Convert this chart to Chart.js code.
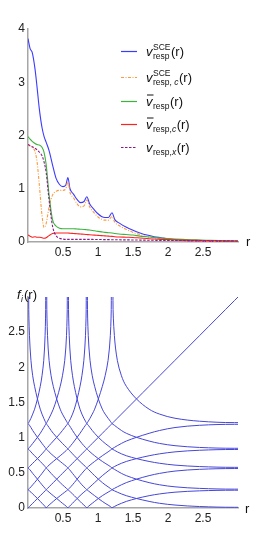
<!DOCTYPE html>
<html><head><meta charset="utf-8">
<script src="https://cdn.jsdelivr.net/npm/chart.js@4/dist/chart.umd.min.js"></script>
<style>
html,body{margin:0;padding:0;background:#fff;}
#wrap{position:relative;width:268px;height:539px;overflow:hidden;}
canvas{position:absolute;left:0;}
</style></head><body>
<div id="wrap">
<canvas id="c1" width="268" height="270" style="top:0"></canvas>
<canvas id="c2" width="268" height="269" style="top:270px"></canvas>
</div>
<script>
// ---------- top panel data ----------
const rTop = [0,0.03,0.06,0.1,0.13,0.16,0.2,0.23,0.26,0.3,0.35,0.4,0.45,0.5,0.54,0.57,0.6,0.65,0.7,0.75,0.8,0.84,0.88,0.95,1.0,1.05,1.1,1.15,1.2,1.24,1.3,1.4,1.5,1.6,1.7,1.8,1.9,2.0,2.2,2.4,2.6,2.8,3.0];
const vRespSCE = [3.82,3.63,3.56,3.25,2.9,2.52,2.15,1.98,1.87,1.72,1.45,1.2,1.08,1.04,1.07,1.21,1.0,0.9,0.8,0.74,0.76,0.85,0.72,0.6,0.53,0.48,0.46,0.46,0.55,0.42,0.36,0.28,0.22,0.17,0.13,0.1,0.08,0.06,0.035,0.02,0.012,0.008,0.005];
const vRespCSCE = [1.83,1.8,1.78,1.7,1.5,1.1,0.5,0.27,0.35,0.65,0.88,0.95,0.97,0.97,1.0,1.13,0.93,0.83,0.72,0.66,0.68,0.79,0.66,0.54,0.47,0.43,0.41,0.41,0.48,0.37,0.31,0.24,0.18,0.14,0.1,0.08,0.06,0.045,0.025,0.015,0.01,0.006,0.004];
const vBarResp = [1.98,1.93,1.89,1.85,1.83,1.82,1.78,1.68,1.45,0.9,0.42,0.3,0.26,0.25,0.25,0.25,0.25,0.25,0.245,0.24,0.235,0.23,0.225,0.21,0.2,0.19,0.18,0.175,0.17,0.16,0.15,0.14,0.13,0.11,0.1,0.085,0.075,0.065,0.05,0.04,0.03,0.025,0.02];
const vBarRespC = [0.13,0.11,0.09,0.1,0.09,0.09,0.08,0.07,0.08,0.12,0.16,0.17,0.17,0.17,0.17,0.17,0.165,0.16,0.155,0.15,0.145,0.14,0.135,0.13,0.125,0.12,0.115,0.11,0.105,0.1,0.095,0.09,0.085,0.075,0.065,0.055,0.05,0.045,0.035,0.03,0.025,0.02,0.02];
const vRespX = [1.83,1.81,1.79,1.76,1.73,1.69,1.62,1.5,1.3,0.8,0.3,0.12,0.07,0.055,0.05,0.05,0.05,0.05,0.05,0.05,0.05,0.05,0.05,0.048,0.047,0.046,0.045,0.044,0.043,0.042,0.041,0.04,0.038,0.036,0.034,0.032,0.03,0.029,0.027,0.025,0.023,0.021,0.02];
const topXTicks = [0.5,1,1.5,2,2.5];
const topYTicks = [0,1,2,3,4];

// ---------- bottom panel data ----------
// electron-count levels s and the radius read at each level (last = infinity, off chart)
const levelS = [0,0.03,0.07,0.15,0.25,0.35,0.5,0.65,0.75,0.85,0.93,0.97,
                1,1.03,1.07,1.15,1.25,1.35,1.5,1.65,1.75,1.85,1.93,1.97,
                2,2.03,2.07,2.15,2.25,2.35,2.5,2.65,2.75,2.85,2.93,2.97,
                3,3.03,3.07,3.15,3.25,3.35,3.5,3.65,3.75,3.85,3.93,3.97,
                4,4.03,4.07,4.15,4.25,4.35,4.5,4.65,4.75,4.85,4.93,4.97,5];
const levelR = [0,0.010,0.021,0.042,0.067,0.094,0.135,0.175,0.200,0.225,0.244,0.253,
                0.260,0.268,0.279,0.301,0.330,0.361,0.410,0.460,0.492,0.525,0.550,0.561,
                0.570,0.578,0.589,0.610,0.636,0.662,0.702,0.743,0.770,0.798,0.821,0.832,
                0.840,0.849,0.861,0.886,0.918,0.952,1.005,1.062,1.102,1.144,1.176,1.190,
                1.200,1.214,1.234,1.276,1.335,1.405,1.550,1.730,1.880,2.100,2.450,2.950,40];
const risingShifts = [-4,-3,-2,-1,0,1,2,3,4];   // f level = s + c
const fallingSums = [1,2,3,4,5,6,7,8,9];        // f level = k - s
const botXTicks = [0.5,1,1.5,2,2.5];
const botYTicks = [0,0.5,1,1.5,2,2.5];

const FONT = '"Liberation Sans", Arial, Helvetica, sans-serif';
const AXIS = '#a6a6a6';

function levelIndex(v){
  for (let j=0;j<levelS.length;j++) if (Math.abs(levelS[j]-v)<1e-6) return j;
  return -1;
}
function curve(mapLevel){
  const pts=[];
  for (let i=0;i<levelS.length;i++){
    const j = levelIndex(mapLevel(levelS[i]));
    if (j>=0) pts.push({x:levelR[i], y:levelR[j]});
  }
  return pts;
}

function setFont(ctx,size,italic){ ctx.font=(italic?'italic ':'')+size+'px '+FONT; }
function txt(ctx,x,y,t,size,italic){ setFont(ctx,size,italic); ctx.fillText(t,x,y); return ctx.measureText(t).width; }
function pieces(ctx,x,y,list,size){ let w=0; for(const p of list){ w+=txt(ctx,x+w,y,p[0],size,p[1]); } return w; }

function mathLabel(ctx,x,y,o){
  ctx.fillStyle='#111'; ctx.textBaseline='alphabetic'; ctx.textAlign='left';
  let w = txt(ctx,x,y,o.base,13,true);
  if (o.bar){ ctx.strokeStyle='#111'; ctx.lineWidth=1; ctx.beginPath(); ctx.moveTo(x+1,y-10.5); ctx.lineTo(x+w+1,y-10.5); ctx.stroke(); }
  let x2=x+w+0.5, wsup=0, wsub=0;
  if (o.sup){ wsup = pieces(ctx,x2,y-6,o.sup,8.5); }
  if (o.sub){ wsub = pieces(ctx,x2,y+3,o.sub,8.5); }
  x2 += Math.max(wsup,wsub)+0.5;
  txt(ctx,x2,y,'(r)',13,false);
}

const legendItems = [
  {color:'#3b3bff', dash:[], o:{base:'v', sup:[['SCE',false]], sub:[['resp',false]]}},
  {color:'#ff9a3c', dash:[3,1.5,1,1.5], o:{base:'v', sup:[['SCE',false]], sub:[['resp, ',false],['c',true]]}},
  {color:'#3cb43c', dash:[], o:{base:'v', bar:true, sub:[['resp',false]]}},
  {color:'#ff2020', dash:[], o:{base:'v', bar:true, sub:[['resp,',false],['c',true]]}},
  {color:'#8a1a8a', dash:[2.5,1.5], o:{base:'v', sub:[['resp,',false],['x',true]]}}
];
const legendY = [51,77,101,124,147];

const topDeco = {
  id:'topDeco',
  afterDraw(chart){
    const ctx=chart.ctx; ctx.save();
    legendItems.forEach((it,k)=>{
      const y=legendY[k];
      ctx.strokeStyle=it.color; ctx.lineWidth=1.2; ctx.setLineDash(it.dash);
      ctx.beginPath(); ctx.moveTo(121,y+0.5); ctx.lineTo(137,y+0.5); ctx.stroke();
      ctx.setLineDash([]);
      mathLabel(ctx,146,y+4.5,it.o);
    });
    ctx.fillStyle='#111'; ctx.textBaseline='middle'; ctx.textAlign='left';
    txt(ctx,246,chart.chartArea.bottom,'r',13,false);
    ctx.restore();
  }
};
const botDeco = {
  id:'botDeco',
  afterDraw(chart){
    const ctx=chart.ctx; ctx.save();
    ctx.fillStyle='#111'; ctx.textBaseline='alphabetic'; ctx.textAlign='left';
    let w=txt(ctx,17,29,'f',13,true);
    w+=txt(ctx,17+w+0.5,32,'i',8.5,true);
    txt(ctx,17+w+1.5,29,'(r)',13,false);
    ctx.textBaseline='middle';
    txt(ctx,245,chart.chartArea.bottom+1,'r',13,false);
    ctx.restore();
  }
};

function axisX(ticks, h){
  return {type:'linear', min:0, max:3,
    afterBuildTicks:s=>{ s.ticks=ticks.map(v=>({value:v})); },
    afterFit:s=>{ s.height=h; },
    grid:{display:false, drawTicks:false},
    border:{display:true,color:AXIS,width:1.5},
    ticks:{font:{family:FONT,size:12},color:'#222',padding:3,maxRotation:0,autoSkip:false,callback:v=>String(v)}};
}
function axisY(ticks,max){
  return {type:'linear', min:0, max:max,
    afterBuildTicks:s=>{ s.ticks=ticks.map(v=>({value:v})); },
    afterFit:s=>{ s.width=28; },
    grid:{display:false, drawTicks:false},
    border:{display:true,color:AXIS,width:1.5},
    ticks:{font:{family:FONT,size:12},color:'#222',padding:3,autoSkip:false,callback:v=>String(v)}};
}

const topPts = arr => rTop.map((r,i)=>({x:r,y:arr[i]}));
new Chart(document.getElementById('c1'),{
  type:'line',
  data:{datasets:[
    {data:topPts(vRespX), borderColor:'#8a1a8a', borderDash:[2.5,1.5], borderWidth:1.1},
    {data:topPts(vBarRespC), borderColor:'#ff2020', borderWidth:1.1},
    {data:topPts(vBarResp), borderColor:'#3cb43c', borderWidth:1.1},
    {data:topPts(vRespCSCE), borderColor:'#ff9a3c', borderDash:[3,1.5,1,1.5], borderWidth:1.1},
    {data:topPts(vRespSCE), borderColor:'#3b3bff', borderWidth:1.1}
  ]},
  options:{responsive:false, animation:false, devicePixelRatio:1,
    parsing:false, elements:{point:{radius:0}, line:{tension:0.3, cubicInterpolationMode:'monotone'}},
    layout:{padding:{top:29,right:30,left:0,bottom:0}},
    plugins:{legend:{display:false}, tooltip:{enabled:false}},
    scales:{x:axisX(topXTicks,28), y:axisY(topYTicks,4)}},
  plugins:[topDeco]
});

const botSets=[];
risingShifts.forEach(c=>botSets.push({data:curve(s=>+(s+c).toFixed(2)), borderColor:'#4646d8', borderWidth:1}));
fallingSums.forEach(k=>botSets.push({data:curve(s=>+(k-s).toFixed(2)), borderColor:'#4646d8', borderWidth:1}));
new Chart(document.getElementById('c2'),{
  type:'line',
  data:{datasets:botSets},
  options:{responsive:false, animation:false, devicePixelRatio:1,
    parsing:false, elements:{point:{radius:0}, line:{tension:0.35}},
    layout:{padding:{top:27,right:30,left:0,bottom:0}},
    plugins:{legend:{display:false}, tooltip:{enabled:false}},
    scales:{x:axisX(botXTicks,31), y:axisY(botYTicks,3)}},
  plugins:[botDeco]
});
</script>
</body></html>
